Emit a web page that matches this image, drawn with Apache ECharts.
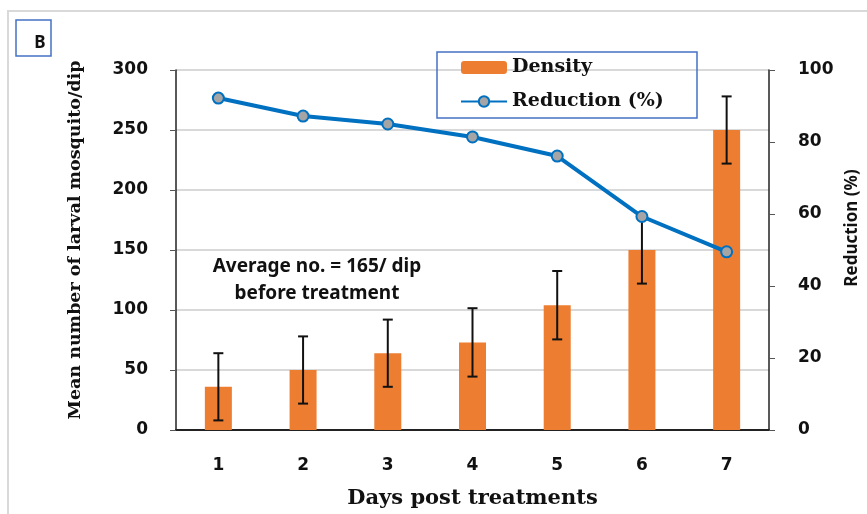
<!DOCTYPE html>
<html>
<head>
<meta charset="utf-8">
<script src="https://cdn.jsdelivr.net/npm/echarts@6/dist/echarts.min.js"></script>
<style>
  html, body { margin: 0; padding: 0; background: #fff; }
  #main { width: 867px; height: 514px; }
</style>
</head>
<body>
<div id="main"></div>
<script>
// data
var days = ['1', '2', '3', '4', '5', '6', '7'];
var density = [36, 50, 64, 73, 104, 150, 250];
var densityErr = [28, 28, 28, 28.5, 28.5, 28, 28];
var reduction = [92.2, 87.2, 85, 81.4, 76.1, 59.3, 49.5];

var chart = echarts.init(document.getElementById('main'));

var errData = density.map(function (v, i) {
  return [i, v - densityErr[i], v + densityErr[i]];
});

var tickFont = { fontFamily: 'DejaVu Sans', fontWeight: 'bold', fontSize: 17, color: '#111' };

var option = {
  animation: false,
  grid: { left: 176, right: 98, top: 70, bottom: 84, outerBoundsMode: 'none' },
  legend: {
    orient: 'vertical',
    left: 460,
    top: 57,
    padding: 0,
    itemGap: 13,
    itemWidth: 46,
    itemHeight: 13,
    textStyle: { fontFamily: 'DejaVu Serif', fontWeight: 'bold', fontSize: 19, color: '#111', lineHeight: 21 },
    data: ['Density', 'Reduction (%)']
  },
  graphic: [
    { type: 'rect', shape: { x: 8, y: 11, width: 880, height: 540 }, style: { fill: 'none', stroke: '#d9d9d9', lineWidth: 2 }, silent: true },
    { type: 'rect', shape: { x: 437, y: 52, width: 260, height: 66 }, style: { fill: 'none', stroke: '#4472C4', lineWidth: 1.5 }, z: 10 },
    { type: 'rect', shape: { x: 16, y: 20, width: 35, height: 36 }, style: { fill: '#fff', stroke: '#4472C4', lineWidth: 1.5 } },
    { type: 'text', x: 40, y: 43, style: { text: 'B', font: 'bold 17px "Noto Sans"', fill: '#111', align: 'center', verticalAlign: 'middle' } },
    { type: 'text', x: 317, y: 280, style: { text: 'Average no. = 165/ dip\nbefore treatment', font: 'bold 19px "Noto Sans"', fill: '#111', lineHeight: 27, align: 'center', verticalAlign: 'middle' } },
    { type: 'text', x: 852, y: 228, rotation: Math.PI / 2, style: { text: 'Reduction (%)', font: 'bold 17px "Noto Sans"', fill: '#111', align: 'center', verticalAlign: 'middle' } }
  ],
  xAxis: {
    type: 'category',
    data: days,
    name: 'Days post treatments',
    nameLocation: 'middle',
    nameGap: 58,
    nameTextStyle: { fontFamily: 'DejaVu Serif', fontWeight: 'bold', fontSize: 21, color: '#111' },
    axisLine: { lineStyle: { color: '#222', width: 2 } },
    axisTick: { show: false },
    axisLabel: Object.assign({ margin: 27 }, tickFont)
  },
  yAxis: [
    {
      type: 'value',
      min: 0, max: 300, interval: 50,
      name: 'Mean number of larval mosquito/dip',
      nameLocation: 'middle',
      nameRotate: 90,
      nameGap: 92,
      nameTextStyle: { fontFamily: 'DejaVu Serif', fontWeight: 'bold', fontSize: 17.5, color: '#111', padding: [0, 0, 0, 20] },
      axisLine: { show: true, lineStyle: { color: '#222', width: 1.5 } },
      axisTick: { show: true, length: 6, lineStyle: { color: '#555' } },
      axisLabel: Object.assign({ margin: 28 }, tickFont),
      splitLine: { lineStyle: { color: '#d9d9d9', width: 2 } }
    },
    {
      type: 'value',
      min: 0, max: 100, interval: 20,
      axisLine: { show: true, lineStyle: { color: '#222', width: 1.5 } },
      axisTick: { show: true, length: 6, lineStyle: { color: '#555' } },
      axisLabel: Object.assign({ margin: 29 }, tickFont),
      splitLine: { show: false }
    }
  ],
  series: [
    {
      name: 'Density',
      type: 'bar',
      data: density,
      barWidth: 27,
      itemStyle: { color: '#ED7D31' },
      z: 2
    },
    {
      name: 'err',
      type: 'custom',
      data: errData,
      z: 3,
      renderItem: function (params, api) {
        var x = api.value(0);
        var lo = api.coord([x, api.value(1)]);
        var hi = api.coord([x, api.value(2)]);
        var w = 5;
        var st = { stroke: '#111', lineWidth: 2 };
        return {
          type: 'group',
          children: [
            { type: 'line', shape: { x1: lo[0], y1: lo[1], x2: hi[0], y2: hi[1] }, style: st },
            { type: 'line', shape: { x1: lo[0] - w, y1: lo[1], x2: lo[0] + w, y2: lo[1] }, style: st },
            { type: 'line', shape: { x1: hi[0] - w, y1: hi[1], x2: hi[0] + w, y2: hi[1] }, style: st }
          ]
        };
      }
    },
    {
      name: 'Reduction (%)',
      type: 'line',
      yAxisIndex: 1,
      data: reduction,
      symbol: 'circle',
      symbolSize: 11,
      lineStyle: { color: '#0070C0', width: 4 },
      itemStyle: { color: '#A5A5A5', borderColor: '#0070C0', borderWidth: 2 },
      z: 5
    }
  ]
};

chart.setOption(option);
</script>
</body>
</html>
